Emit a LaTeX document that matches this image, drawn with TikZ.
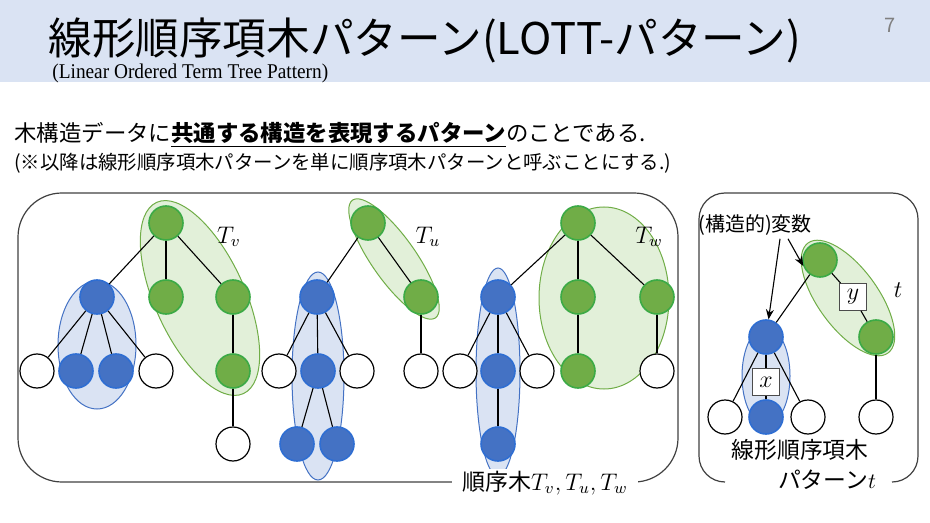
\documentclass[tikz,border=0pt]{standalone}
\usepackage{amsmath}
\usepackage{fontspec}
\setmainfont{Noto Sans CJK JP}
\newfontfamily\serifen{Liberation Serif}
\usepackage{tikz}
\usetikzlibrary{arrows.meta}
\definecolor{band}{RGB}{218,227,243}
\definecolor{gfill}{RGB}{112,173,71}
\definecolor{gline}{RGB}{60,170,70}
\definecolor{bfill}{RGB}{68,114,196}
\definecolor{bline}{RGB}{47,110,210}
\definecolor{gset}{RGB}{226,240,217}
\definecolor{bset}{RGB}{218,227,243}

\begin{document}
\begin{tikzpicture}
	[%
	x=0.5pt, y=-0.5pt, >={Stealth[length=5pt, width=4pt]},%
	gnode/.style ={circle,		draw=gline,		fill=gfill,		line width=0.8pt,	inner sep=0pt,	minimum size=17pt},%
	bnode/.style ={circle,		draw=bline,		fill=bfill,		line width=0.8pt,	inner sep=0pt,	minimum size=17pt},%
	wnode/.style ={circle,		draw=black,		fill=white,		line width=0.6pt,	inner sep=0pt,	minimum size=17pt},%
	varbox/.style={rectangle,	draw=black!70,	fill=white,		line width=0.5pt,	inner sep=0pt,	minimum size=13.5pt,	font=\fontsize{12}{14}\selectfont},%
	gsetc/.style ={draw=gfill,	fill=gset,		line width=0.5pt},%
	bsetc/.style ={draw=bfill,	fill=bset,		line width=0.5pt},%
	conn/.style  ={black,		line width=0.55pt},%
	frame/.style ={draw=black!75,	line width=0.6pt},%
	mlabel/.style={font=\fontsize{12}{14}\selectfont},%
	]

	\newcommand{\lvla}{223}
	\newcommand{\lvlb}{297}
	\newcommand{\lvlc}{371}
	\newcommand{\lvld}{444}

	\useasboundingbox (0,0) rectangle (930,523);

	% header
	\fill [band] (0,0) rectangle (930,82);
	\node (title) at (48,40) [anchor=west, inner sep=0pt, font=\fontsize{21.8}{26}\selectfont] {線形順序項木パターン(LOTT-パターン)};
	\node (pnum) at (890,25) [text=black!50, font=\fontsize{10}{12}\selectfont] {7};
	\node (subtitle) at (52,73) [anchor=west, inner sep=0pt, font=\serifen\fontsize{10.5}{12}\selectfont] {\scalebox{0.92}[1]{(Linear Ordered Term Tree Pattern)}};
	\node (line1) at (14,135) [anchor=west, inner sep=0pt, font=\fontsize{11.2}{13}\selectfont]
		{木構造データに\underline{\textbf{共通する構造を表現するパターン}}のことである.};
	\node (line2) at (14,163) [anchor=west, inner sep=0pt, font=\fontsize{9.7}{12}\selectfont]
		{(※以降は線形順序項木パターンを単に順序項木パターンと呼ぶことにする.)};

	% sets
	\draw [bsetc] (97,345) ellipse [x radius=39, y radius=64];
	\draw [gsetc, rotate around={-65.6:(200,298)}] (200,298) ellipse [x radius=105, y radius=45];
	\draw [bsetc] (318,376) ellipse [x radius=26, y radius=104];
	\draw [gsetc, rotate around={-54.8:(394,259)}] (394,259) ellipse [x radius=72, y radius=22];
	\draw [bsetc] (498,372) ellipse [x radius=22, y radius=104];
	\draw [gsetc] (604,298) ellipse [x radius=65, y radius=91];
	\draw [bsetc] (766,376) ellipse [x radius=24, y radius=49];
	\draw [gsetc, rotate around={-54:(848,298)}] (848,298) ellipse [x radius=68, y radius=30];

	% nodes
	% tree T_v
	\foreach \n/\x/\y in {v0/166/\lvla, v2/166/\lvlb, v3/233/\lvlb, v8/233/\lvlc}%
		\node (\n) at (\x,\y) [gnode] {};
	\foreach \n/\x/\y in {v1/97/\lvlb, v5/76/\lvlc, v6/116/\lvlc}%
		\node (\n) at (\x,\y) [bnode] {};
	\foreach \n/\x/\y in {v4/37/\lvlc, v7/156/\lvlc, v9/233/\lvld}%
		\node (\n) at (\x,\y) [wnode] {};
	% tree T_u
	\foreach \n/\x/\y in {u0/368/\lvla, u2/421/\lvlb}%
		\node (\n) at (\x,\y) [gnode] {};
	\foreach \n/\x/\y in {u1/317/\lvlb, u4/318/\lvlc, u7/297/\lvld, u8/337/\lvld}%
		\node (\n) at (\x,\y) [bnode] {};
	\foreach \n/\x/\y in {u3/279/\lvlc, u5/357/\lvlc, u6/421/\lvlc}%
		\node (\n) at (\x,\y) [wnode] {};
	% tree T_w
	\foreach \n/\x/\y in {w0/578/\lvla, w2/578/\lvlb, w3/657/\lvlb, w7/578/\lvlc}%
		\node (\n) at (\x,\y) [gnode] {};
	\foreach \n/\x/\y in {w1/498/\lvlb, w5/498/\lvlc, w9/498/\lvld}%
		\node (\n) at (\x,\y) [bnode] {};
	\foreach \n/\x/\y in {w4/460/\lvlc, w6/537/\lvlc, w8/657/\lvlc}%
		\node (\n) at (\x,\y) [wnode] {};
	% pattern t
	\node (t0) at (820,260) [gnode] {};
	\node (t2) at (876,337) [gnode] {};
	\node (t1) at (766,337) [bnode] {};
	\node (t4) at (766,417) [bnode] {};
	\foreach \n/\x in {t3/725, t5/808, t6/876}%
		\node (\n) at (\x,417) [wnode] {};
	\node (ty) at (853,297) [varbox] {$y$};
	\node (tx) at (766,382) [varbox] {$x$};

	% interconnections
	\foreach \a/\b in {v0/v1, v0/v2, v0/v3, v1/v4, v1/v5, v1/v6, v1/v7, v3/v8, v8/v9}%
		\draw [conn] (\a) -- (\b);
	\foreach \a/\b in {u0/u1, u0/u2, u1/u3, u1/u4, u1/u5, u4/u7, u4/u8, u2/u6}%
		\draw [conn] (\a) -- (\b);
	\foreach \a/\b in {w0/w1, w0/w2, w0/w3, w1/w4, w1/w5, w1/w6, w5/w9, w2/w7, w3/w8}%
		\draw [conn] (\a) -- (\b);
	\foreach \a/\b in {t0/t1, t0/ty, ty/t2, t2/t6, t1/t3, t1/tx, tx/t4, t1/t5}%
		\draw [conn] (\a) -- (\b);

	% labels
	\node (lv) at (229,237) [mlabel] {$T_v$};
	\node (lu) at (428,237) [mlabel] {$T_u$};
	\node (lw) at (649,237) [mlabel] {$T_w$};
	\node (lt) at (898,290) [mlabel] {$t$};

	% frames
	\draw [frame, rounded corners=22pt] (18,193) rectangle (678,482);
	\node (trees) at (545,483) [fill=white, inner xsep=5pt, inner ysep=1pt, font=\fontsize{11.5}{13}\selectfont] {順序木$T_v,T_u,T_w$};
	\draw [frame, rounded corners=13pt] (725,482) -| (699,193) -| (918,482) -- (892,482);
	\node (pat1) at (800,450) [inner sep=0pt, font=\fontsize{11.4}{13}\selectfont] {線形順序項木};
	\node (pat2) at (827,480) [inner sep=0pt, font=\fontsize{11.4}{13}\selectfont] {パターン$t$};

	\node (vars) at (755,225) [inner sep=1.5pt, font=\fontsize{10}{12}\selectfont] {(構造的)変数};
	\draw [->, conn] ([xshift=12.5pt]vars.south) -- (t1);
	\draw [->, conn] ([xshift=16.5pt]vars.south) -- (t0.200);

\end{tikzpicture}
\end{document}
